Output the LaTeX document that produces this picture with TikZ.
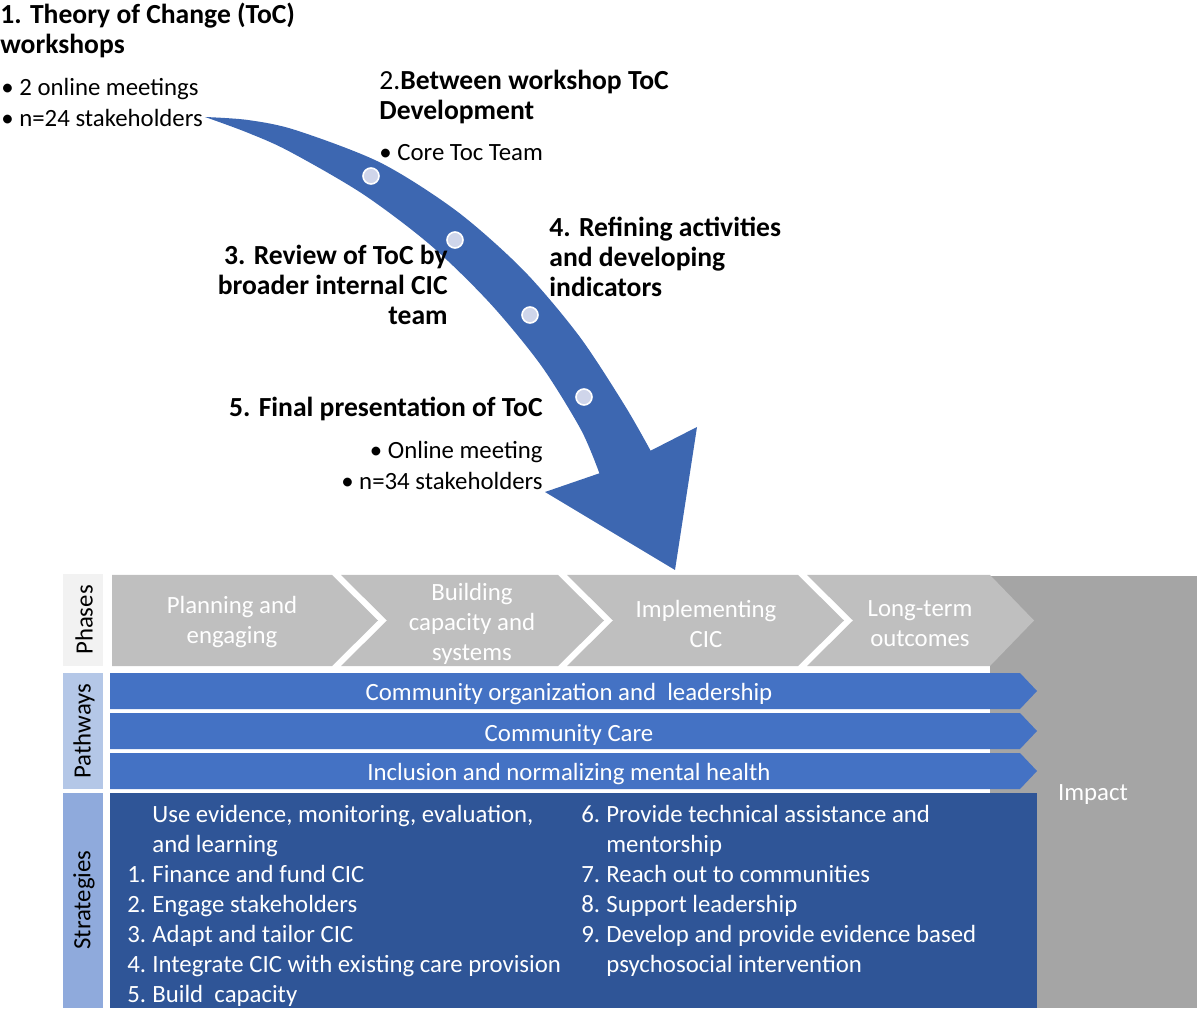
\documentclass[tikz,border=0pt]{standalone}
\usepackage{fontspec}
\setmainfont{Carlito}
\definecolor{arrowblue}{HTML}{3D67B1}
\definecolor{pathblue}{HTML}{4472C4}
\definecolor{stratblue}{HTML}{2F5597}
\definecolor{phasegray}{HTML}{BFBFBF}
\definecolor{impactgray}{HTML}{A5A5A5}
\definecolor{lblphase}{HTML}{F2F2F2}
\definecolor{lblpath}{HTML}{B4C7E7}
\definecolor{lblstrat}{HTML}{8FAADC}
\definecolor{dotfill}{HTML}{CFD5EA}
\newcommand{\itm}[1]{\makebox[12.5pt][l]{#1}}
\newcommand{\bulmark}{\makebox[9pt][l]{•}}
\begin{document}
\begin{tikzpicture}[x=0.5pt,y=-0.5pt,
  every node/.style={inner sep=0pt, font=\fontsize{12.4}{15}\selectfont},
  hd/.style={font=\fontsize{13.8}{15}\selectfont\bfseries},
  bul/.style={font=\fontsize{12.4}{15.5}\selectfont},
  phtxt/.style={text=white, align=center},
  pwtxt/.style={text=white},
  sttxt/.style={text=white, align=left, anchor=west},
  lbltxt/.style={rotate=90, text=black},
  dot/.style={circle, minimum size=8pt, fill=dotfill, draw=white, line width=0.8pt}]
\useasboundingbox (0,0) rectangle (1200,1010);

% impact background
\fill[impactgray] (990,576) rectangle (1197,1008);

% phases chevrons
\fill[phasegray] (112,575) -- (332,575) -- (378,620.5) -- (332,666) -- (112,666) -- cycle;
\fill[phasegray] (341,575) -- (558,575) -- (604,620.5) -- (558,666) -- (341,666) -- (387,620.5) -- cycle;
\fill[phasegray] (567,575) -- (798,575) -- (844,620.5) -- (798,666) -- (567,666) -- (613,620.5) -- cycle;
\fill[phasegray] (807,575) -- (990,575) -- (1034,620.5) -- (990,666) -- (807,666) -- (853,620.5) -- cycle;

% pathways
\fill[pathblue] (110,673) -- (1020,673) -- (1037,691) -- (1020,709) -- (110,709) -- cycle;
\fill[pathblue] (110,713) -- (1020,713) -- (1037,731) -- (1020,749) -- (110,749) -- cycle;
\fill[pathblue] (110,753) -- (1020,753) -- (1037,771) -- (1020,789) -- (110,789) -- cycle;

% strategies
\fill[stratblue] (110,793) rectangle (1037,1008);

% row labels
\fill[lblphase] (63,574) rectangle (103,666);
\fill[lblpath] (63,673) rectangle (103,789);
\fill[lblstrat] (63,793) rectangle (103,1008);
\node[lbltxt] (lphases) at (84,620) {Phases};
\node[lbltxt] (lpath) at (84,731) {Pathways};
\node[lbltxt] (lstrat) at (84,900) {Strategies};

% phase texts
\node[phtxt] (p1) at (232,622) {Planning and\\engaging};
\node[phtxt] (p2) at (472,624) {Building\\capacity and\\systems};
\node[phtxt] (p3) at (706,624) {Implementing\\CIC};
\node[phtxt] (p4) at (920,624) {Long-term\\outcomes};

% pathway texts
\node[pwtxt] (w1) at (569,694.5) {Community organization and~ leadership};
\node[pwtxt] (w2) at (569,734.5) {Community Care};
\node[pwtxt] (w3) at (569,774.5) {Inclusion and normalizing mental health};

% strategies texts
\node[sttxt] (s1) at (127,906) {\itm{}Use evidence, monitoring, evaluation,\\
\itm{}and learning\\
\itm{1.}Finance and fund CIC\\
\itm{2.}Engage stakeholders\\
\itm{3.}Adapt and tailor CIC\\
\itm{4.}Integrate CIC with existing care provision\\
\itm{5.}Build~ capacity};
\node[sttxt] (s2) at (581,891) {\itm{6.}Provide technical assistance and\\
\itm{}mentorship\\
\itm{7.}Reach out to communities\\
\itm{8.}Support leadership\\
\itm{9.}Develop and provide evidence based\\
\itm{}psychosocial intervention};

% impact
\node[text=white] (imp) at (1093,795) {Impact};

% curved process arrow
\fill[arrowblue] plot[smooth] coordinates {(205,117) (247.9,120.0) (295.6,130.1) (380.7,162.8) (457.1,211.4) (523.7,270.5) (579.5,336.5) (624.7,405.4) (650.6,450.7)}
  -- (697,427) -- (675,570) -- (545,492) -- (599.4,473.3)
  -- plot[smooth] coordinates {(599.4,473.3) (580.9,429.6) (540.7,364.9) (489.5,302.7) (430.1,244.8) (362.5,193.8) (288.0,150.7) (244.9,131.6) (205,117)} -- cycle;
\node[dot] (d1) at (371,176) {};
\node[dot] (d2) at (455,240) {};
\node[dot] (d3) at (530,315) {};
\node[dot] (d4) at (584,397) {};

% top texts
\node[hd, align=left, anchor=west] (t1) at (0,30) {1. Theory of Change (ToC)\\workshops};
\node[bul, align=left, anchor=west] (b1) at (1,102.5) {\bulmark 2 online meetings\\\bulmark n=24 stakeholders};
\node[hd, align=left, anchor=west] (t2) at (379,96.5) {\mdseries 2.\bfseries Between workshop ToC\\Development};
\node[anchor=west] (b2) at (379,153) {\bulmark Core Toc Team};
\node[hd, align=right, anchor=east] (t3) at (448,285) {3. Review of ToC by\\broader internal CIC\\team};
\node[hd, align=left, anchor=west] (t4) at (549,257) {4. Refining activities\\and developing\\indicators};
\node[hd, anchor=east] (t5) at (543,409) {5. Final presentation of ToC};
\node[bul, align=right, anchor=east] (b5) at (543,465.5) {\bulmark Online meeting\\\bulmark n=34 stakeholders};
\end{tikzpicture}
\end{document}
